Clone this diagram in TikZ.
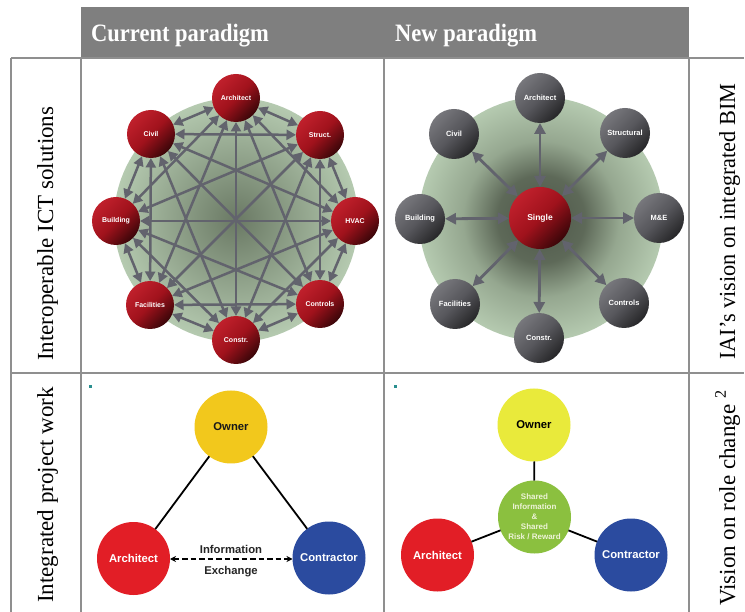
\documentclass[tikz,border=0pt]{standalone}
\usepackage{fontspec}
\setmainfont{Liberation Serif}
\setsansfont{Liberation Sans}
\usetikzlibrary{arrows.meta}
\definecolor{headgray}{HTML}{7F7F7F}
\definecolor{gridgray}{HTML}{8F8F8F}
\definecolor{arrowgray}{HTML}{62636D}
\definecolor{sphRa}{HTML}{C0202C}
\definecolor{sphRb}{HTML}{A0121C}
\definecolor{sphRc}{HTML}{3A0609}
\definecolor{sphGa}{HTML}{77777C}
\definecolor{sphGb}{HTML}{57575C}
\definecolor{sphGc}{HTML}{262628}
\definecolor{gIn}{HTML}{6A7964}
\definecolor{gOut}{HTML}{B5CAB0}
\definecolor{gDark}{HTML}{4E5749}
\definecolor{gMid}{HTML}{75846F}
\definecolor{ownerA}{HTML}{F2C81C}
\definecolor{ownerB}{HTML}{E9EA3B}
\definecolor{archred}{HTML}{E21E26}
\definecolor{contblue}{HTML}{2B4B9F}
\definecolor{sharegreen}{HTML}{8BC03F}
\definecolor{paletext}{HTML}{EEF3D8}
\definecolor{tealmark}{HTML}{2A8F8F}
\pgfdeclareradialshading{singleglow}{\pgfpoint{0bp}{0bp}}{color(0bp)=(gDark); color(9bp)=(gDark!60!gMid); color(16bp)=(gMid!50!gOut); color(25bp)=(gOut); color(50bp)=(gOut)}
\tikzset{
  gridline/.style={draw=gridgray, line width=1.6pt},
  headtxt/.style={text=white, inner sep=0pt, font=\bfseries\fontsize{25}{28}\selectfont},
  sidetxt/.style={text=black, inner sep=0pt, rotate=90, anchor=base west, font=\fontsize{23}{26}\selectfont},
  redsph/.style={circle, inner sep=0pt, outer sep=0pt, minimum size=48pt,
    top color=sphRa, bottom color=sphRc, middle color=sphRb, shading angle=45,
    text=white, font=\sffamily\bfseries\fontsize{7}{8}\selectfont},
  graysph/.style={circle, inner sep=0pt, outer sep=0pt, minimum size=50pt,
    top color=sphGa, bottom color=sphGc, middle color=sphGb, shading angle=45,
    text=white, font=\sffamily\bfseries\fontsize{7.5}{8}\selectfont},
  kedge/.style={draw=arrowgray, line width=2.5pt,
    {Triangle[length=9.5pt,width=10pt]}-{Triangle[length=9.5pt,width=10pt]}},
  sedge/.style={draw=arrowgray, line width=2.8pt,
    {Triangle[length=11pt,width=11pt]}-{Triangle[length=11pt,width=11pt]}},
  role/.style={circle, inner sep=0pt, outer sep=0pt, minimum size=73pt,
    font=\sffamily\bfseries\fontsize{11.3}{13}\selectfont},
  rolelink/.style={draw=black, line width=1.8pt},
}
\begin{document}
\begin{tikzpicture}[x=1pt,y=-1pt]
\useasboundingbox (0,0) rectangle (745,612);
\fill[white] (0,0) rectangle (745,612);
% header
\fill[headgray] (81,7) rectangle (689,58);
\node[headtxt, anchor=base west] (h1) at (91,42) {\scalebox{0.9}[1]{Current paradigm}};
\node[headtxt, anchor=base west] (h2) at (395,42) {\scalebox{0.9}[1]{New paradigm}};
% grid
\draw[gridline] (11,58) -- (744,58);
\draw[gridline] (11,373) -- (744,373);
\draw[gridline] (11,58) -- (11,612);
\draw[gridline] (81,58) -- (81,612);
\draw[gridline] (384,58) -- (384,612);
\draw[gridline] (689,58) -- (689,612);
% side labels
\node[sidetxt] (s1) at (53,361) {Interoperable ICT solutions};
\node[sidetxt] (s2) at (53,603) {Integrated project work};
\node[sidetxt] (s3) at (735,360) {\scalebox{0.97}[1]{IAI’s vision on integrated BIM}};
\node[sidetxt] (s4) at (735,606) {Vision on role change \textsuperscript{2}};

% ---------- top-left: current paradigm ----------
\shade[inner color=gIn, outer color=gOut] (236,220) circle[radius=122pt];
\node[redsph] (tA) at (236,98)  {Architect};
\node[redsph] (tS) at (320,135) {Struct.};
\node[redsph] (tH) at (355,221) {HVAC};
\node[redsph] (tC) at (320,304) {Controls};
\node[redsph] (tK) at (236,340) {Constr.};
\node[redsph] (tF) at (150,305) {Facilities};
\node[redsph] (tB) at (116,221) {Building};
\node[redsph] (tV) at (151,134) {Civil};
\foreach \a/\b in {tA/tS,tA/tH,tA/tC,tA/tK,tA/tF,tA/tB,tA/tV,
                   tS/tH,tS/tC,tS/tK,tS/tF,tS/tB,tS/tV,
                   tH/tC,tH/tK,tH/tF,tH/tB,tH/tV,
                   tC/tK,tC/tF,tC/tB,tC/tV,
                   tK/tF,tK/tB,tK/tV,
                   tF/tB,tF/tV,
                   tB/tV}
  \draw[kedge] (\a) -- (\b);

% ---------- top-right: new paradigm ----------
\shade[shading=singleglow] (541,219) circle[radius=122pt];
\node[redsph, minimum size=62pt, font=\sffamily\bfseries\fontsize{8.5}{10}\selectfont] (nS) at (540,218) {\raisebox{2pt}{Single}};
\node[graysph] (nA) at (540,98)  {Architect};
\node[graysph] (nT) at (625,133) {Structural};
\node[graysph] (nM) at (659,218) {M\&E};
\node[graysph] (nC) at (624,303) {Controls};
\node[graysph] (nK) at (539,338) {Constr.};
\node[graysph] (nF) at (455,304) {Facilities};
\node[graysph] (nB) at (420,219) {Building};
\node[graysph] (nV) at (454,134) {Civil};
\foreach \b in {nA,nT,nM,nC,nK,nF,nB,nV}
  \draw[sedge] (nS) -- (\b);

% ---------- bottom-left: current roles ----------
\fill[tealmark] (89,385) rectangle (92,388);
\node[role, fill=ownerA, text=black!90] (bO) at (231,427) {Owner};
\node[role, fill=archred, text=white] (bA) at (133.5,558.5) {Architect};
\node[role, fill=contblue, text=white] (bC) at (329,558) {Contractor};
\draw[rolelink] (bO) -- (bA);
\draw[rolelink] (bO) -- (bC);
\draw[black, line width=1.5pt, dash pattern=on 5.5pt off 3pt,
  {Stealth[length=6pt,width=6pt]}-{Stealth[length=6pt,width=6pt]}]
  (bA.east |- 0,559) coordinate (dl) -- (bC.west |- 0,559) coordinate (dr);
\node[font=\sffamily\bfseries\fontsize{11.3}{13}\selectfont, text=black!85] (info) at (231,549) {Information};
\node[font=\sffamily\bfseries\fontsize{11.3}{13}\selectfont, text=black!85] (exch) at (231,572) {Exchange};

% ---------- bottom-right: new roles ----------
\fill[tealmark] (394,385) rectangle (397,388);
\node[role, fill=ownerB, text=black] (rO) at (534,425) {Owner};
\node[role, fill=sharegreen, text=paletext, font=\sffamily\bfseries\fontsize{8}{10}\selectfont, align=center] (rS) at (534.5,517) {Shared\\Information\\\&\\Shared\\Risk / Reward};
\node[role, fill=archred, text=white] (rA) at (437.5,555) {Architect};
\node[role, fill=contblue, text=white] (rC) at (631,555) {Contractor};
\draw[rolelink] (rO) -- (rS);
\draw[rolelink] (rS) -- (rA);
\draw[rolelink] (rS) -- (rC);
\end{tikzpicture}
\end{document}
